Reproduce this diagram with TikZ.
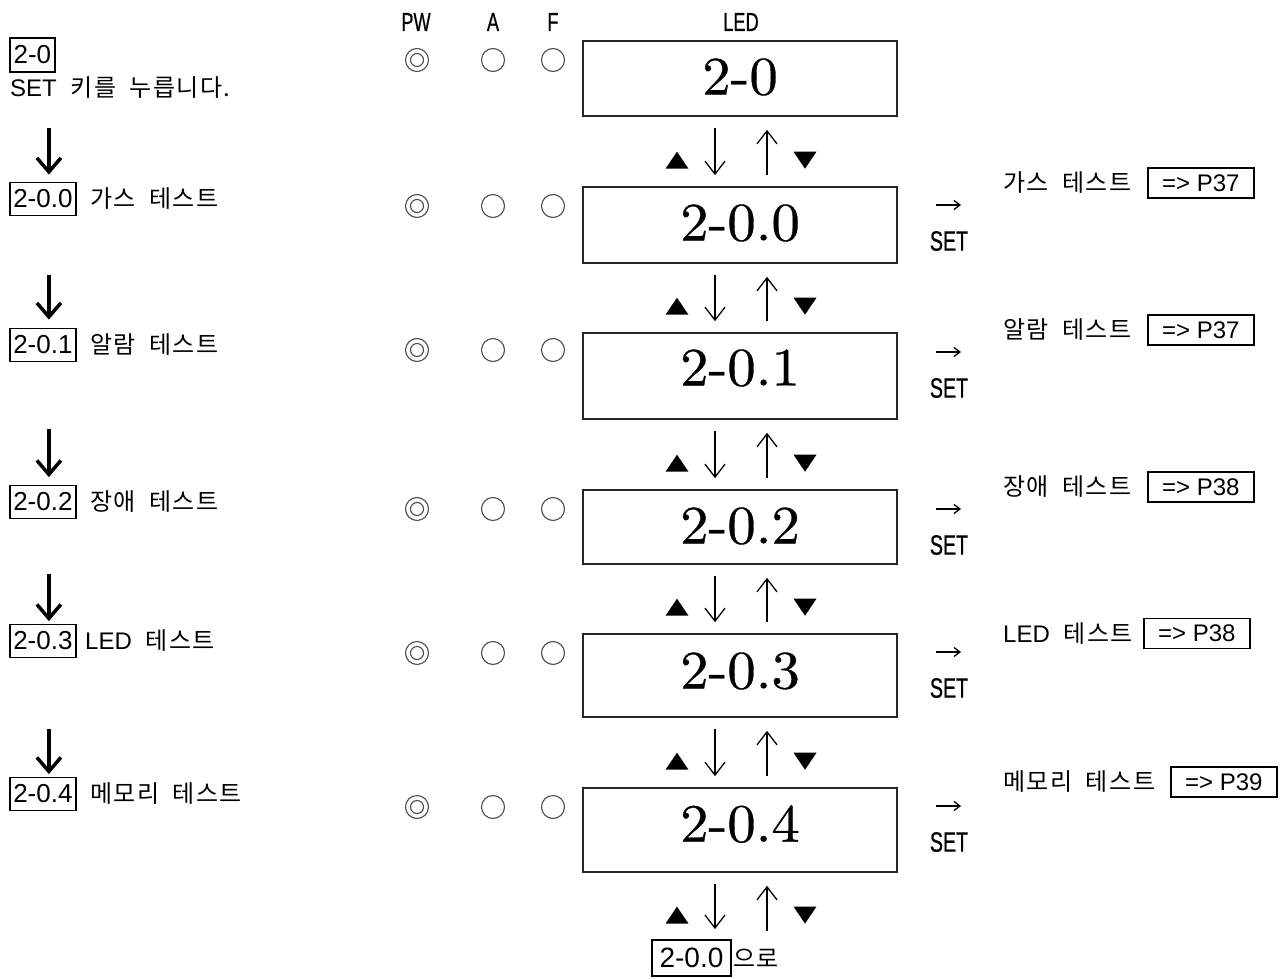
\documentclass[tikz,border=0pt]{standalone}
\usepackage{fontspec}
\usetikzlibrary{arrows.meta,calc}
\newfontfamily\kr[WordSpace=2,LetterSpace=6]{Noto Sans CJK KR}
\newfontfamily\lat{Liberation Sans}
\newfontfamily\cond[FakeStretch=0.7,FakeBold=0.6]{Liberation Sans}
\newfontfamily\ledfont[FakeBold=0.6,FakeStretch=1.05]{lmroman10-regular.otf}
\newcommand\uptri[1]{\fill (#1) ++(-11.5,8.5) -- ++(23,0) -- ++(-11.5,-17) -- cycle;}
\newcommand\dntri[1]{\fill (#1) ++(-11.5,-8.5) -- ++(23,0) -- ++(-11.5,17) -- cycle;}
\tikzset{
  ledbox/.style={draw=black!85, line width=1.6pt, minimum width=314pt, inner sep=0pt},
  lednum/.style={inner sep=0pt, font=\ledfont\fontsize{54}{54}\selectfont},
  codebox/.style={draw, line width=1.8pt, inner sep=0pt, minimum height=33pt, minimum width=66pt, anchor=west, font=\lat\fontsize{26}{26}\selectfont},
  lbl/.style={inner sep=0pt, anchor=west, font=\kr\fontsize{24}{24}\selectfont},
  refbox/.style={draw, line width=1.8pt, inner sep=0pt, minimum width=106pt, minimum height=30pt, anchor=west, font=\lat\fontsize{24}{24}\selectfont},
  hdr/.style={inner sep=0pt, font=\cond\fontsize{26}{26}\selectfont},
  setlbl/.style={inner sep=0pt, font=\cond\fontsize{28}{28}\selectfont},
  rarr/.style={line width=1.3pt, -{Straight Barb[length=6pt,width=9pt]}},
  lamp/.style={circle, draw=black!70, line width=1.1pt, minimum size=23pt, inner sep=0pt},
  darr/.style={line width=1.3pt, -{Straight Barb[length=13pt,width=20pt]}},
  bigarr/.style={line width=3.5pt, -{Straight Barb[length=14pt,width=24pt]}},
}
\begin{document}
\begin{tikzpicture}[x=1pt,y=-1pt]
\useasboundingbox (0,0) rectangle (1287,979);

% headers
\node[hdr] (hpw) at (416,22) {PW};
\node[hdr] (ha) at (493,22) {A};
\node[hdr] (hf) at (553,22) {F};
\node[hdr] (hled) at (741,22) {LED};

% LED boxes
\node[ledbox, minimum height=75pt] (led0) at (740,78.5) {};
\node[ledbox, minimum height=76pt] (led1) at (740,225) {};
\node[ledbox, minimum height=86pt] (led2) at (740,376) {};
\node[ledbox, minimum height=74pt] (led3) at (740,527) {};
\node[ledbox, minimum height=83pt] (led4) at (740,675.5) {};
\node[ledbox, minimum height=84pt] (led5) at (740,830) {};
\node[lednum] (n0) at (740,77) {2-0};
\node[lednum] (n1) at (740,223) {2-0.0};
\node[lednum] (n2) at (740,368) {2-0.1};
\node[lednum] (n3) at (740,526) {2-0.2};
\node[lednum] (n4) at (740,671) {2-0.3};
\node[lednum] (n5) at (740,824) {2-0.4};

% lamps
\foreach \i/\y in {0/60,1/206,2/350,3/509,4/653,5/807}{
  \node[lamp] (pw\i) at (417,\y) {};
  \draw[black!70, line width=1.1pt] (pw\i.center) circle (6.5pt);
  \node[lamp] (a\i) at (493,\y) {};
  \node[lamp] (f\i) at (553,\y) {};
}

% end target
\node[codebox, anchor=center, minimum width=79pt, minimum height=36pt, font=\lat\fontsize{28}{28}\selectfont] (endbox) at (691.5,958) {2-0.0};
\node[lbl] (endt) at (733,958) {으로};
\coordinate (endtop) at (led5.south |- endbox.north);

% up/down arrows between LED boxes
\foreach \a/\b in {led0/led1,led1/led2,led2/led3,led3/led4,led4/led5}{
  \draw[darr, shorten <=11pt, shorten >=11pt] ([xshift=-25pt]\a.south) -- ([xshift=-25pt]\b.north);
  \draw[darr, shorten <=11pt, shorten >=13pt] ([xshift=27pt]\b.north) -- ([xshift=27pt]\a.south);
  \uptri{[xshift=-63pt,yshift=26pt]\b.north}
  \dntri{[xshift=65pt,yshift=26pt]\b.north}
}
\draw[darr, shorten <=11pt, shorten >=10pt] ([xshift=-25pt]led5.south) -- ([xshift=-25pt]endtop);
\draw[darr, shorten <=8pt, shorten >=13pt] ([xshift=27pt]endtop) -- ([xshift=27pt]led5.south);
\uptri{[xshift=-63pt,yshift=24pt]endtop}
\dntri{[xshift=65pt,yshift=24pt]endtop}

% left column
\node[codebox, minimum width=45pt, minimum height=34pt] (lb0) at (9,55) {2-0};
\node[lbl] (lt0) at (10,88) {{\lat SET} 키를 누릅니다.};
\node[codebox] (lb1) at (9,199) {2-0.0};
\node[lbl] (lt1) at (90,199) {가스 테스트};
\node[codebox] (lb2) at (9,345) {2-0.1};
\node[lbl] (lt2) at (90,345) {알람 테스트};
\node[codebox] (lb3) at (9,502) {2-0.2};
\node[lbl] (lt3) at (90,502) {장애 테스트};
\node[codebox] (lb4) at (9,641) {2-0.3};
\node[lbl] (lt4) at (85,641) {{\lat LED} 테스트};
\node[codebox] (lb5) at (9,794) {2-0.4};
\node[lbl] (lt5) at (90,794) {메모리 테스트};

\draw[bigarr] ([xshift=6pt,yshift=54pt]lb1.north) -- ([xshift=6pt,yshift=7pt]lb1.north);
\draw[bigarr] ([xshift=6pt,yshift=53pt]lb2.north) -- ([xshift=6pt,yshift=8pt]lb2.north);
\draw[bigarr] ([xshift=6pt,yshift=55.5pt]lb3.north) -- ([xshift=6pt,yshift=7.5pt]lb3.north);
\draw[bigarr] ([xshift=6pt,yshift=49.5pt]lb4.north) -- ([xshift=6pt,yshift=2.5pt]lb4.north);
\draw[bigarr] ([xshift=6pt,yshift=47.5pt]lb5.north) -- ([xshift=6pt,yshift=2.5pt]lb5.north);

% right column: SET arrows
\foreach \i/\y in {1/205,2/352,3/509,4/652,5/806}{
  \node[setlbl] (set\i) at (949,\y+36) {SET};
  \draw[rarr] ([xshift=-13pt,yshift=36pt]set\i.center) -- ([xshift=12pt,yshift=36pt]set\i.center);
}

% right column: references
\node[lbl] (rt1) at (1003,183) {가스 테스트};
\node[refbox] (rb1) at (1147,183) {=> P37};
\node[lbl] (rt2) at (1003,330) {알람 테스트};
\node[refbox] (rb2) at (1147,330) {=> P37};
\node[lbl] (rt3) at (1003,487) {장애 테스트};
\node[refbox] (rb3) at (1147,487) {=> P38};
\node[lbl] (rt4) at (1003,633.5) {{\lat LED} 테스트};
\node[refbox] (rb4) at (1143,633.5) {=> P38};
\node[lbl] (rt5) at (1003,782) {메모리 테스트};
\node[refbox] (rb5) at (1170,782) {=> P39};
\end{tikzpicture}
\end{document}
